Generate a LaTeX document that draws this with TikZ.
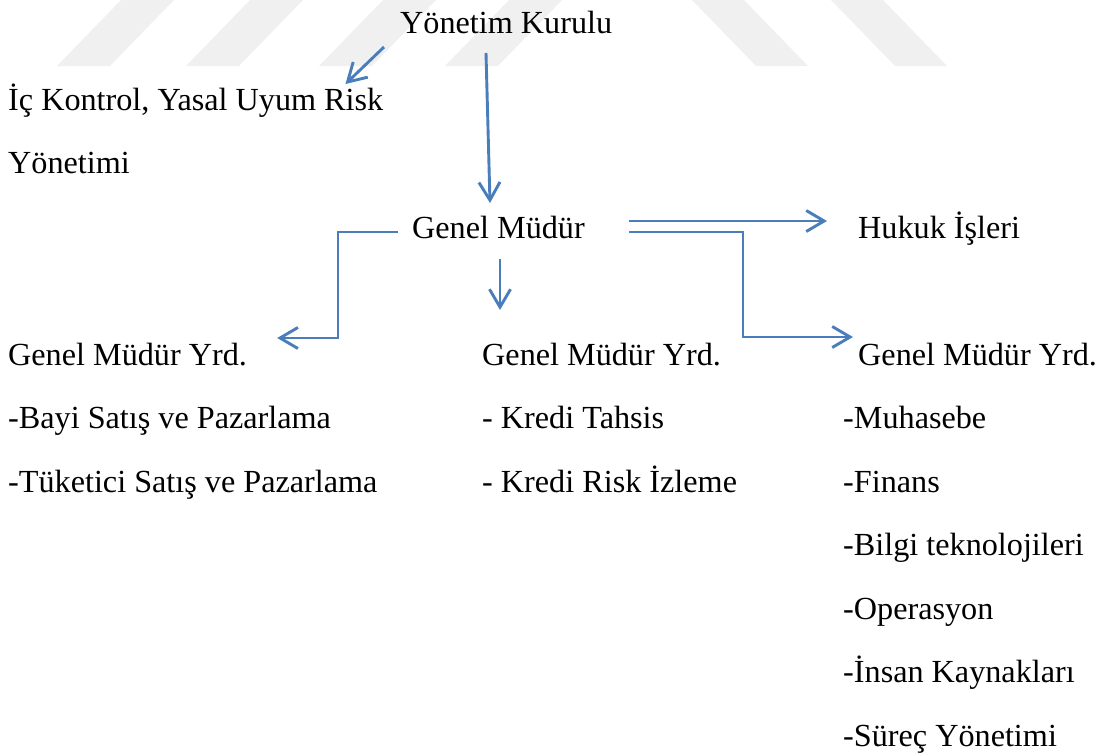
\documentclass[tikz,border=0pt]{standalone}
\usepackage{fontspec}
\setmainfont{Liberation Serif}
\usepackage{tikz}
\usetikzlibrary{arrows.meta, calc}
\definecolor{linkblue}{RGB}{74, 126, 187}
\definecolor{markgray}{RGB}{240, 240, 240}
\newcommand{\orgfont}{\fontsize{32.2}{38}\selectfont}
\tikzset{
  orgarrow/.style={-{Straight Barb[length=6.3mm, width=7.4mm]}, line width=2.9pt, linkblue},
  orgtext/.style={font=\orgfont, inner sep=0pt, anchor=base west},
  markband/.style={fill=markgray, draw=none}
}

\begin{document}
\begin{tikzpicture}[x=1pt, y=-1pt]
    \useasboundingbox (0,0) rectangle (1103,753);

    % --- FAINT BACKGROUND BANDS ---
    \foreach \bx in {57,186,319,445} {
        \fill[markband] (\bx,66) -- ++(53,0) -- ++(64,-66) -- ++(-53,0) -- cycle;
    }
    \foreach \bx in {756,895} {
        \fill[markband] (\bx,66) -- ++(52,0) -- ++(-64,-66) -- ++(-52,0) -- cycle;
    }

    % --- TOP LEVEL ---
    \node[orgtext] (yk) at (400,33) {Yönetim Kurulu};
    \node[orgtext] (ick) at (8,110) {İç Kontrol, Yasal Uyum Risk};
    \node[orgtext] (ickb) at (8,173) {Yönetimi};

    % --- GENERAL MANAGER ---
    \node[orgtext] (gm) at (412,238) {Genel Müdür};
    \node[orgtext] (hk) at (858,238) {Hukuk İşleri};

    % --- ASSISTANT MANAGERS ---
    \node[orgtext] (gmyA) at (8,365) {Genel Müdür Yrd.};
    \node[orgtext] (gmyB) at (482,365) {Genel Müdür Yrd.};
    \node[orgtext] (gmyC) at (858,365) {Genel Müdür Yrd.};

    % Left column
    \node[orgtext] (bayi) at (8,428) {-Bayi Satış ve Pazarlama};
    \node[orgtext] (tuket) at (8,492) {-Tüketici Satış ve Pazarlama};

    % Middle column
    \node[orgtext] (tahsis) at (482,428) {- Kredi Tahsis};
    \node[orgtext] (izleme) at (482,492) {- Kredi Risk İzleme};

    % Right column
    \node[orgtext] (muh) at (843,428) {-Muhasebe};
    \node[orgtext] (fin) at (843,492) {-Finans};
    \node[orgtext] (bilgi) at (843,555) {-Bilgi teknolojileri};
    \node[orgtext] (ops) at (843,619) {-Operasyon};
    \node[orgtext] (ik) at (843,682) {-İnsan Kaynakları};
    \node[orgtext] (surec) at (843,746) {-Süreç Yönetimi};

    % --- CONNECTORS ---
    \draw[orgarrow] ($(yk.base west)+(-16,14)$) -- ($(ick.base east)+(-38,-26)$);
    \draw[orgarrow] ($(yk.base west)+(86,20)$) -- ($(gm.base west)+(78,-35)$);
    \draw[orgarrow] ($(gm.base west)+(-14,-6)$) -- ++(-60,0) |- ($(gmyA.base east)+(30,-27)$);
    \draw[orgarrow] ($(gm.base west)+(88,21)$) -- ($(gmyB.base west)+(18,-55)$);
    \draw[orgarrow] ($(gm.base east)+(44,-17)$) -- ($(hk.base west)+(-31,-17)$);
    \draw[orgarrow] ($(gm.base east)+(44,-6)$) -- ++(114,0) |- ($(gmyC.base west)+(-5,-28)$);
\end{tikzpicture}
\end{document}
